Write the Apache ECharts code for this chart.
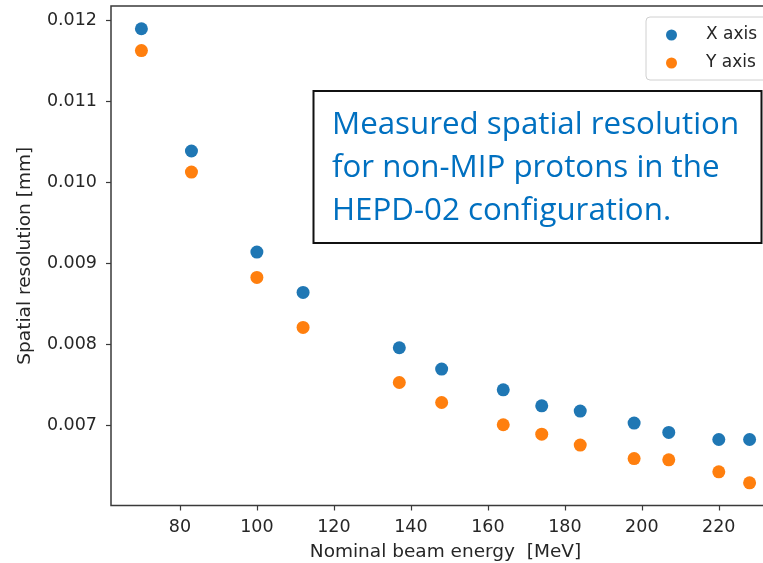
<!DOCTYPE html>
<html>
<head>
<meta charset="utf-8">
<script src="https://cdn.jsdelivr.net/npm/echarts@6/dist/echarts.min.js"></script>
<style>
html,body{margin:0;padding:0;background:#fff;overflow:hidden;width:763px;height:563px;}
#chart{width:800px;height:563px;}
</style>
</head>
<body>
<div id="chart"></div>
<script>
const energies = [70, 83, 100, 112, 137, 148, 164, 174, 184, 198, 207, 220, 228];
const xAxisRes = [0.01190, 0.01039, 0.009142, 0.008643, 0.00796, 0.007697, 0.007441, 0.007243, 0.007178, 0.00703, 0.006914, 0.006827, 0.006827];
const yAxisRes = [0.01163, 0.01013, 0.008829, 0.008211, 0.007531, 0.007284, 0.007009, 0.006893, 0.006758, 0.006592, 0.006576, 0.006428, 0.006292];
const xTicks = [80, 100, 120, 140, 160, 180, 200, 220];
const yTicks = [0.007, 0.008, 0.009, 0.010, 0.011, 0.012];
const seriesNames = ['X axis', 'Y axis'];
const xTitle = 'Nominal beam energy  [MeV]';
const yTitle = 'Spatial resolution [mm]';
const noteText = 'Measured spatial resolution\nfor non-MIP protons in the\nHEPD-02 configuration.';

const chart = echarts.init(document.getElementById('chart'), null, {renderer: 'canvas', width: 800, height: 563});
const axisTextColor = '#262626';
const tickFont = 'DejaVu Sans';

const option = {
  animation: false,
  backgroundColor: '#ffffff',
  grid: {
    left: 111, top: 6, width: 669, height: 499.5,
    containLabel: false, outerBoundsMode: 'none',
    show: true, borderColor: '#3a3a3a', borderWidth: 1.5, backgroundColor: 'transparent'
  },
  xAxis: {
    type: 'value', min: 62.1, max: 235.9,
    name: xTitle, nameLocation: 'middle', nameGap: 37.5,
    nameTextStyle: {fontFamily: tickFont, fontSize: 18.5, color: axisTextColor},
    axisLine: {show: false},
    splitLine: {show: false},
    axisTick: {show: true, inside: false, length: 5, customValues: xTicks, lineStyle: {color: '#3a3a3a', width: 1.2}},
    axisLabel: {customValues: xTicks, margin: 13, fontFamily: tickFont, fontSize: 17.5, color: axisTextColor}
  },
  yAxis: {
    type: 'value', min: 0.006012, max: 0.012181,
    name: yTitle, nameLocation: 'middle', nameGap: 76, nameRotate: 90,
    nameTextStyle: {fontFamily: tickFont, fontSize: 18.5, color: axisTextColor},
    axisLine: {show: false},
    splitLine: {show: false},
    axisTick: {show: true, inside: false, length: 5, customValues: yTicks, lineStyle: {color: '#3a3a3a', width: 1.2}},
    axisLabel: {customValues: yTicks, margin: 14, fontFamily: tickFont, fontSize: 17.5, color: axisTextColor,
      formatter: v => Number(v).toFixed(3)}
  },
  legend: {
    left: 646, top: 17, orient: 'vertical',
    data: seriesNames,
    icon: 'circle', itemWidth: 11, itemHeight: 11, itemGap: 8,
    padding: [8, 30, 7, 20],
    backgroundColor: 'rgba(255,255,255,0.85)',
    borderColor: '#d0d0d0', borderWidth: 1, borderRadius: 4,
    textStyle: {fontFamily: tickFont, fontSize: 17, color: axisTextColor, lineHeight: 20, padding: [0, 0, 0, 24]}
  },
  series: [
    {
      name: seriesNames[0], type: 'scatter', symbol: 'circle', symbolSize: 13,
      itemStyle: {color: '#1f77b4', opacity: 1},
      data: energies.map((e, i) => [e, xAxisRes[i]])
    },
    {
      name: seriesNames[1], type: 'scatter', symbol: 'circle', symbolSize: 13,
      itemStyle: {color: '#ff7f0e', opacity: 1},
      data: energies.map((e, i) => [e, yAxisRes[i]])
    }
  ],
  graphic: [
    {
      type: 'rect', z: 100,
      shape: {x: 313.5, y: 91, width: 448, height: 152},
      style: {fill: '#ffffff', stroke: '#111111', lineWidth: 2}
    },
    {
      type: 'text', z: 101, x: 332, y: 104,
      style: {
        text: noteText, fill: '#0070c0',
        font: '31.3px "Open Sans"', lineHeight: 43,
        textAlign: 'left', textVerticalAlign: 'top'
      }
    }
  ]
};
chart.setOption(option);
</script>
</body>
</html>
